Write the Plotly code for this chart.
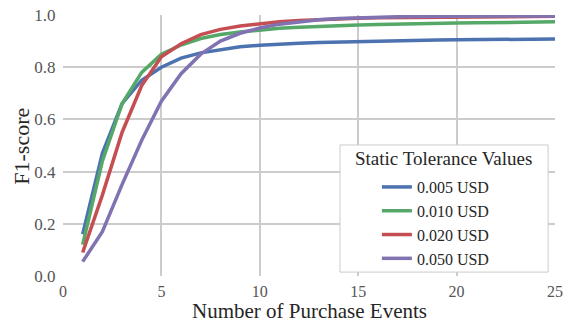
import plotly.graph_objects as go

x_events = list(range(1, 26))
f1_0005 = [0.16, 0.47, 0.66, 0.75, 0.80, 0.835, 0.855, 0.868, 0.878, 0.884, 0.889, 0.892, 0.895, 0.897, 0.899,
           0.901, 0.902, 0.903, 0.904, 0.905, 0.906, 0.907, 0.907, 0.908, 0.908]
f1_0010 = [0.12, 0.44, 0.66, 0.78, 0.85, 0.885, 0.91, 0.925, 0.935, 0.943, 0.949, 0.953, 0.957, 0.96, 0.962,
           0.964, 0.966, 0.967, 0.968, 0.969, 0.970, 0.971, 0.972, 0.973, 0.974]
f1_0020 = [0.09, 0.31, 0.55, 0.73, 0.84, 0.89, 0.925, 0.945, 0.958, 0.967, 0.974, 0.979, 0.983, 0.986, 0.988,
           0.989, 0.990, 0.991, 0.992, 0.993, 0.993, 0.994, 0.994, 0.995, 0.995]
f1_0050 = [0.055, 0.17, 0.35, 0.52, 0.67, 0.775, 0.85, 0.9, 0.93, 0.95, 0.965, 0.975, 0.982, 0.987, 0.99,
           0.992, 0.993, 0.994, 0.995, 0.995, 0.996, 0.996, 0.996, 0.996, 0.996]
series_names = ["0.005 USD", "0.010 USD", "0.020 USD", "0.050 USD"]
series_vals = [f1_0005, f1_0010, f1_0020, f1_0050]
colors = ["#4C72B0", "#55A868", "#C44E52", "#8172B2"]
x_ticks = [0, 5, 10, 15, 20, 25]
y_ticks = [0.0, 0.2, 0.4, 0.6, 0.8, 1.0]
legend_title = "Static Tolerance Values"
x_title = "Number of Purchase Events"
y_title = "F1-score"

FONT = "Liberation Serif, DejaVu Serif, serif"

fig = go.Figure()
for name, vals, c in zip(series_names, series_vals, colors):
    fig.add_trace(go.Scatter(x=x_events, y=vals, mode="lines", name=name,
                             line=dict(color=c, width=3.5)))

# legend frame and centred title
fig.add_shape(type="rect", xref="paper", yref="paper", x0=0.563, x1=0.986, y0=0.015, y1=0.502,
              line=dict(color="#cccccc", width=1), fillcolor="white", layer="above")
fig.add_annotation(text=legend_title, xref="paper", yref="paper", x=0.774, y=0.452,
                   xanchor="center", yanchor="middle", showarrow=False,
                   font=dict(family=FONT, size=19, color="#262626"))
# axis titles
fig.add_annotation(text=x_title, xref="paper", yref="paper", x=0.5, y=-0.134,
                   xanchor="center", yanchor="middle", showarrow=False,
                   font=dict(family=FONT, size=21, color="#262626"))
fig.add_annotation(text=y_title, xref="paper", yref="paper", x=-0.085, y=0.496,
                   xanchor="center", yanchor="middle", showarrow=False, textangle=-90,
                   font=dict(family=FONT, size=22, color="#262626"))

fig.update_layout(
    width=569, height=325,
    margin=dict(l=63, r=14, t=15, b=49),
    paper_bgcolor="white", plot_bgcolor="white",
    font=dict(family=FONT, color="#262626", size=17),
    showlegend=True,
    legend=dict(
        x=0.638, y=0.406, xanchor="left", yanchor="top",
        bgcolor="rgba(0,0,0,0)", borderwidth=0,
        font=dict(family=FONT, size=16, color="#262626"),
        tracegroupgap=0,
    ),
    xaxis=dict(range=[0, 25], tickvals=x_ticks, ticktext=[str(t) for t in x_ticks],
               showgrid=True, gridcolor="#cccccc", gridwidth=1.5, zeroline=False,
               showline=False, ticks="outside", ticklen=1, tickcolor="rgba(0,0,0,0)",
               tickfont=dict(family=FONT, size=16, color="#555555"), automargin=False),
    yaxis=dict(range=[0, 1.0], tickvals=y_ticks, ticktext=[f"{t:.1f}" for t in y_ticks],
               showgrid=True, gridcolor="#cccccc", gridwidth=1.5, zeroline=False,
               showline=False, ticks="outside", ticklen=3, tickcolor="rgba(0,0,0,0)",
               tickfont=dict(family=FONT, size=17, color="#555555"), automargin=False),
)

fig.write_html("out.html")
